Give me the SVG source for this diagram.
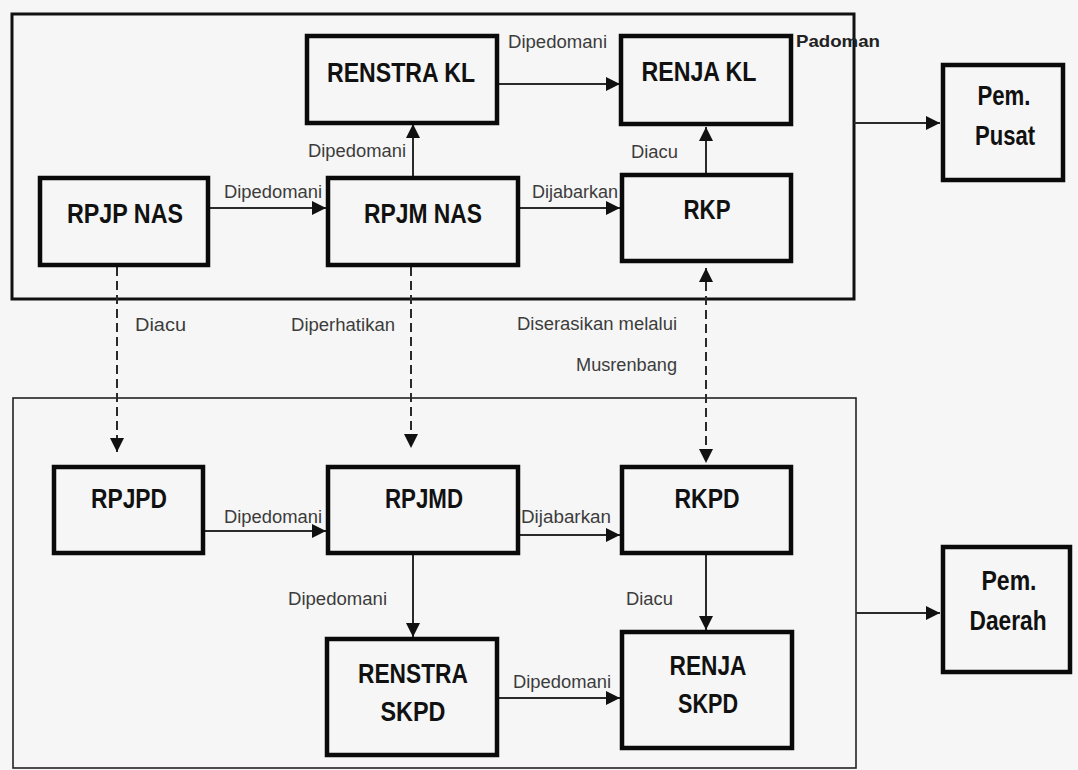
<svg xmlns="http://www.w3.org/2000/svg" width="1078" height="770" viewBox="0 0 1078 770">
  <style>
    .frame-top { fill: none; stroke: #111; stroke-width: 3; }
    .frame-bot { fill: none; stroke: #222; stroke-width: 1.6; }
    .box { fill: #f6f6f6; stroke: #0a0a0a; stroke-width: 4.5; }
    .name { font-family: "Liberation Sans", Arial, sans-serif; font-weight: bold; font-size: 27px; fill: #111; text-anchor: middle; }
    .lbl { font-family: "Liberation Sans", Arial, sans-serif; font-size: 17.5px; fill: #3c3c3c; }
    .lbl-b { font-family: "Liberation Sans", Arial, sans-serif; font-size: 16.5px; font-weight: bold; fill: #222; }
    .link { fill: none; stroke: #2a2a2a; stroke-width: 2; marker-end: url(#ah); }
    .dash { fill: none; stroke: #2a2a2a; stroke-width: 2; stroke-dasharray: 9 5; marker-end: url(#ah); }
    .both { marker-start: url(#ah); }
  </style>
  <defs>
    <marker id="ah" viewBox="0 0 14 14" refX="14" refY="7" markerWidth="14" markerHeight="14" markerUnits="userSpaceOnUse" orient="auto-start-reverse">
      <path d="M0,0 L14,7 L0,14 z" fill="#111"/>
    </marker>
  </defs>

  <rect x="0" y="0" width="1078" height="770" fill="#f6f6f6"/>

  <!-- level frames -->
  <rect class="frame-top" x="12" y="14" width="842" height="285"/>
  <rect class="frame-bot" x="13" y="398" width="843" height="370"/>

  <!-- connectors -->
  <g id="connectors">
    <path class="link" d="M497,84 H620"/>
    <path class="link" d="M413,176 V124"/>
    <path class="link" d="M208,208 H326"/>
    <path class="link" d="M518,208 H620"/>
    <path class="link" d="M706,173 V127"/>
    <path class="dash" d="M117,267 V452"/>
    <path class="dash" d="M411,267 V448"/>
    <path class="dash both" d="M706,268 V463"/>
    <path class="link" d="M203,531 H326"/>
    <path class="link" d="M518,535 H620"/>
    <path class="link" d="M413,555 V637"/>
    <path class="link" d="M706,555 V630"/>
    <path class="link" d="M497,698 H620"/>
    <path class="link" d="M854,123 H940"/>
    <path class="link" d="M856,613 H940"/>

    <text class="lbl" x="508" y="48" textLength="99" lengthAdjust="spacingAndGlyphs">Dipedomani</text>
    <text class="lbl-b" x="796" y="47" textLength="84" lengthAdjust="spacingAndGlyphs">Padoman</text>
    <text class="lbl" x="308" y="157" textLength="98" lengthAdjust="spacingAndGlyphs">Dipedomani</text>
    <text class="lbl" x="224" y="198" textLength="98" lengthAdjust="spacingAndGlyphs">Dipedomani</text>
    <text class="lbl" x="532" y="198" textLength="86" lengthAdjust="spacingAndGlyphs">Dijabarkan</text>
    <text class="lbl" x="631" y="158" textLength="47" lengthAdjust="spacingAndGlyphs">Diacu</text>
    <text class="lbl" x="135" y="331" textLength="51" lengthAdjust="spacingAndGlyphs">Diacu</text>
    <text class="lbl" x="291" y="331" textLength="104" lengthAdjust="spacingAndGlyphs">Diperhatikan</text>
    <text class="lbl" x="517" y="330" textLength="160" lengthAdjust="spacingAndGlyphs">Diserasikan melalui</text>
    <text class="lbl" x="576" y="371" textLength="101" lengthAdjust="spacingAndGlyphs">Musrenbang</text>
    <text class="lbl" x="224" y="523" textLength="98" lengthAdjust="spacingAndGlyphs">Dipedomani</text>
    <text class="lbl" x="521" y="523" textLength="90" lengthAdjust="spacingAndGlyphs">Dijabarkan</text>
    <text class="lbl" x="288" y="605" textLength="99" lengthAdjust="spacingAndGlyphs">Dipedomani</text>
    <text class="lbl" x="626" y="605" textLength="47" lengthAdjust="spacingAndGlyphs">Diacu</text>
    <text class="lbl" x="513" y="688" textLength="98" lengthAdjust="spacingAndGlyphs">Dipedomani</text>
  </g>

  <!-- national level -->
  <g id="renstra-kl">
    <rect class="box" x="307" y="36" width="190" height="87"/>
    <text class="name" x="401" y="82" textLength="148" lengthAdjust="spacingAndGlyphs">RENSTRA KL</text>
  </g>
  <g id="renja-kl">
    <rect class="box" x="621" y="36" width="170" height="88"/>
    <text class="name" x="699" y="81" textLength="115" lengthAdjust="spacingAndGlyphs">RENJA KL</text>
  </g>
  <g id="rpjp-nas">
    <rect class="box" x="40" y="178" width="168" height="87"/>
    <text class="name" x="125" y="223" textLength="116" lengthAdjust="spacingAndGlyphs">RPJP NAS</text>
  </g>
  <g id="rpjm-nas">
    <rect class="box" x="328" y="178" width="190" height="87"/>
    <text class="name" x="423" y="223" textLength="118" lengthAdjust="spacingAndGlyphs">RPJM NAS</text>
  </g>
  <g id="rkp">
    <rect class="box" x="622" y="175" width="169" height="86"/>
    <text class="name" x="707" y="219" textLength="47" lengthAdjust="spacingAndGlyphs">RKP</text>
  </g>
  <g id="pem-pusat">
    <rect class="box" x="943" y="65" width="120" height="115"/>
    <text class="name" x="1004" y="105" textLength="53" lengthAdjust="spacingAndGlyphs">Pem.</text>
    <text class="name" x="1005" y="145" textLength="60" lengthAdjust="spacingAndGlyphs">Pusat</text>
  </g>

  <!-- regional level -->
  <g id="rpjpd">
    <rect class="box" x="54" y="467" width="149" height="86"/>
    <text class="name" x="129" y="508" textLength="76" lengthAdjust="spacingAndGlyphs">RPJPD</text>
  </g>
  <g id="rpjmd">
    <rect class="box" x="328" y="467" width="190" height="86"/>
    <text class="name" x="424" y="508" textLength="78" lengthAdjust="spacingAndGlyphs">RPJMD</text>
  </g>
  <g id="rkpd">
    <rect class="box" x="622" y="467" width="169" height="86"/>
    <text class="name" x="707" y="508" textLength="65" lengthAdjust="spacingAndGlyphs">RKPD</text>
  </g>
  <g id="renstra-skpd">
    <rect class="box" x="327" y="639" width="170" height="116"/>
    <text class="name" x="413" y="683" textLength="110" lengthAdjust="spacingAndGlyphs">RENSTRA</text>
    <text class="name" x="413" y="721" textLength="65" lengthAdjust="spacingAndGlyphs">SKPD</text>
  </g>
  <g id="renja-skpd">
    <rect class="box" x="622" y="632" width="170" height="116"/>
    <text class="name" x="708" y="675" textLength="77" lengthAdjust="spacingAndGlyphs">RENJA</text>
    <text class="name" x="708" y="713" textLength="60" lengthAdjust="spacingAndGlyphs">SKPD</text>
  </g>
  <g id="pem-daerah">
    <rect class="box" x="943" y="547" width="127" height="125"/>
    <text class="name" x="1009" y="590" textLength="55" lengthAdjust="spacingAndGlyphs">Pem.</text>
    <text class="name" x="1008" y="630" textLength="77" lengthAdjust="spacingAndGlyphs">Daerah</text>
  </g>
</svg>
